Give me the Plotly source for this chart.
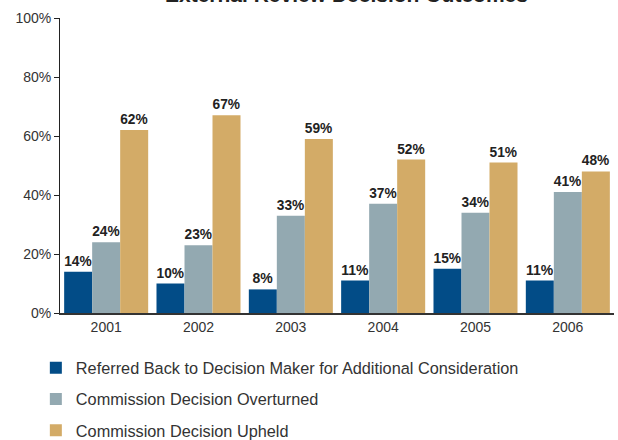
import plotly.graph_objects as go

years = ["2001", "2002", "2003", "2004", "2005", "2006"]
referred = [14, 10, 8, 11, 15, 11]
overturned = [24, 23, 33, 37, 34, 41]
upheld = [62, 67, 59, 52, 51, 48]
series_names = [
    "Referred Back to Decision Maker for Additional Consideration",
    "Commission Decision Overturned",
    "Commission Decision Upheld",
]
colors = ["#024C87", "#93A9B1", "#D3AB67"]
title_text = "External Review Decision Outcomes"

FONT = "Liberation Sans, Arial, sans-serif"

fig = go.Figure()
for i, (name, vals) in enumerate(zip(series_names, [referred, overturned, upheld])):
    fig.add_trace(go.Bar(
        x=years, y=vals, name=name, legendgroup=f"g{i}",
        marker=dict(color=colors[i], line=dict(width=0)),
        text=[f"<b>{v}%</b>" for v in vals], textposition="outside",
        textfont=dict(family=FONT, size=14, color="#222222"),
        cliponaxis=False,
    ))

fig.add_annotation(text=f"<b>{title_text}</b>", xref="paper", yref="paper",
                   x=0.518, y=1.0, xanchor="center", yanchor="bottom", yshift=10,
                   showarrow=False, font=dict(family=FONT, size=21, color="#222222"))

fig.update_layout(
    width=618, height=440,
    margin=dict(l=60, r=4, t=18, b=127, autoexpand=False),
    paper_bgcolor="white", plot_bgcolor="white",
    barmode="group", bargap=0.09, bargroupgap=0,
    font=dict(family=FONT, size=14, color="#333333"),
    showlegend=True,
    legend=dict(x=-0.0436, y=-0.128, xanchor="left", yanchor="top",
                orientation="v", traceorder="grouped", tracegroupgap=7,
                font=dict(family=FONT, size=16.3, color="#333333"),
                bgcolor="rgba(0,0,0,0)"),
)
fig.update_xaxes(showline=True, linecolor="#333333", linewidth=1.5, ticks="",
                 tickfont=dict(family=FONT, size=14, color="#333333"), showgrid=False)
fig.update_yaxes(range=[0, 100], tickvals=[0, 20, 40, 60, 80, 100],
                 ticktext=["0%", "20%", "40%", "60%", "80%", "100%"],
                 showline=True, linecolor="#222222", linewidth=1, ticks="outside",
                 ticklen=5, tickcolor="#222222", showgrid=False, zeroline=False,
                 tickfont=dict(family=FONT, size=14, color="#333333"))

fig.write_html("out.html")
